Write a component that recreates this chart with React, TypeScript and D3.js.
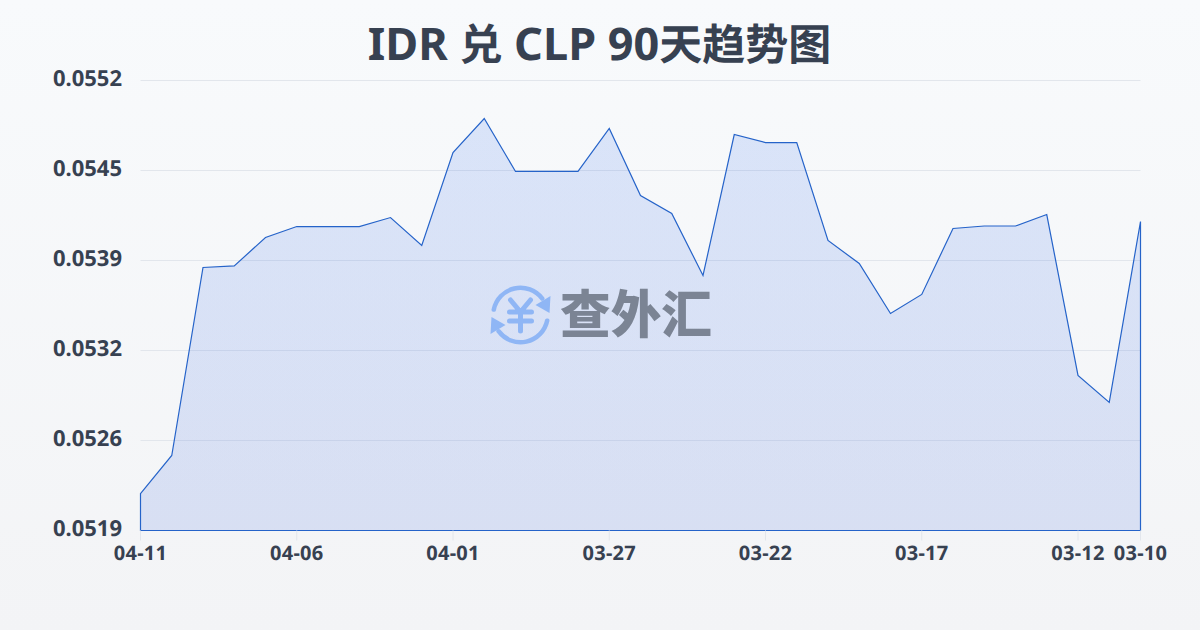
import React, { useEffect, useRef } from "react";
import * as d3 from "d3";

const dates = [
  "04-11", "04-10", "04-09", "04-08", "04-07", "04-06", "04-05", "04-04", "04-03", "04-02", "04-01",
  "03-31", "03-30", "03-29", "03-28", "03-27", "03-26", "03-25", "03-24", "03-23", "03-22",
  "03-21", "03-20", "03-19", "03-18", "03-17", "03-16", "03-15", "03-14", "03-13", "03-12", "03-11", "03-10",
];
const rates = [
  0.052171, 0.05245, 0.053829, 0.05384, 0.054049, 0.054129, 0.054129, 0.054129, 0.054195, 0.05399, 0.054672,
  0.054921, 0.054533, 0.054533, 0.054533, 0.054848, 0.054357, 0.054225, 0.05377, 0.054804, 0.054745,
  0.054745, 0.054027, 0.053858, 0.053491, 0.053631, 0.054115, 0.054133, 0.054133, 0.054217, 0.053037, 0.052839, 0.054166,
];
const xTickLabels = ["04-11", "04-06", "04-01", "03-27", "03-22", "03-17", "03-12", "03-10"];
const yTicks = [0.0519, 0.05256, 0.05322, 0.05388, 0.05454, 0.0552];
const titleParts = [
  { text: "IDR ", cjk: false },
  { text: "兑", cjk: true },
  { text: " CLP 90", cjk: false },
  { text: "天趋势图", cjk: true },
];

const W = 1200;
const H = 630;
const margin = { top: 80.5, right: 59.5, bottom: 99.5, left: 140.5 };
const textColor = "#374151";
const lineColor = "#2563c9";
const latinFont = "'Noto Sans', sans-serif";
const cjkFont = "'Noto Sans CJK SC', sans-serif";

const App: React.FC = () => {
  const chartRef = useRef<SVGSVGElement | null>(null);

  useEffect(() => {
    const svg = d3.select(chartRef.current);
    svg.selectAll("*").remove();

    const defs = svg.append("defs");
    const bg = defs.append("linearGradient").attr("id", "bg").attr("x1", 0).attr("y1", 0).attr("x2", 0).attr("y2", 1);
    bg.append("stop").attr("offset", "0%").attr("stop-color", "#f8fafc");
    bg.append("stop").attr("offset", "100%").attr("stop-color", "#f3f4f6");
    const fill = defs.append("linearGradient").attr("id", "areaFill").attr("x1", 0).attr("y1", 0).attr("x2", 0).attr("y2", 1);
    fill.append("stop").attr("offset", "0%").attr("stop-color", "#2563eb").attr("stop-opacity", 0.14);
    fill.append("stop").attr("offset", "100%").attr("stop-color", "#1d4ed8").attr("stop-opacity", 0.13);

    svg.append("rect").attr("width", W).attr("height", H).attr("fill", "url(#bg)");

    // Scales
    const x = d3
      .scalePoint<string>()
      .domain(dates)
      .range([margin.left, W - margin.right]);
    const y = d3
      .scaleLinear()
      .domain([yTicks[0], yTicks[yTicks.length - 1]])
      .range([H - margin.bottom, margin.top]);

    // Title
    svg
      .append("text")
      .attr("x", W / 2 - 0.5)
      .attr("y", 60)
      .attr("text-anchor", "middle")
      .attr("font-weight", 700)
      .attr("text-rendering", "geometricPrecision")
      .attr("fill", textColor)
      .selectAll("tspan")
      .data(titleParts)
      .enter()
      .append("tspan")
      .attr("font-family", (d) => (d.cjk ? cjkFont : latinFont))
      .attr("font-size", (d) => (d.cjk ? 43 : 45))
      .attr("xml:space", "preserve")
      .text((d) => d.text);

    // Grid and y labels
    svg
      .append("g")
      .selectAll("line")
      .data(yTicks)
      .enter()
      .append("line")
      .attr("x1", margin.left)
      .attr("x2", W - margin.right)
      .attr("y1", (d) => y(d))
      .attr("y2", (d) => y(d))
      .attr("stroke", "#e2e6ec")
      .attr("stroke-width", 1);

    svg
      .append("g")
      .selectAll("text")
      .data(yTicks)
      .enter()
      .append("text")
      .attr("x", 122)
      .attr("y", (d) => y(d) + 5.5)
      .attr("text-anchor", "end")
      .attr("font-family", latinFont)
      .attr("font-weight", 700)
      .attr("font-size", 22)
      .attr("text-rendering", "geometricPrecision")
      .attr("fill", textColor)
      .text((d) => d.toFixed(4));

    // Area and outline
    const area = d3
      .area<number>()
      .x((_, i) => x(dates[i]) as number)
      .y0(y(yTicks[0]))
      .y1((d) => y(d));
    svg
      .append("path")
      .attr("d", area(rates))
      .attr("fill", "url(#areaFill)")
      .attr("stroke", lineColor)
      .attr("stroke-width", 1.2);

    // X ticks and labels
    const xAxis = svg.append("g");
    xAxis
      .selectAll("line")
      .data(xTickLabels)
      .enter()
      .append("line")
      .attr("x1", (d) => x(d) as number)
      .attr("x2", (d) => x(d) as number)
      .attr("y1", H - margin.bottom)
      .attr("y2", H - margin.bottom + 10)
      .attr("stroke", "#e2e6ec");
    xAxis
      .selectAll("text")
      .data(xTickLabels)
      .enter()
      .append("text")
      .attr("x", (d) => x(d) as number)
      .attr("y", 560)
      .attr("text-anchor", "middle")
      .attr("font-family", latinFont)
      .attr("font-weight", 700)
      .attr("font-size", 20)
      .attr("letter-spacing", 0.3)
      .attr("text-rendering", "geometricPrecision")
      .attr("fill", textColor)
      .text((d) => d);

    // Watermark
    const mark = svg.append("g").attr("transform", "translate(520.5,315)");
    const ringColor = "#8fb6f5";
    const ring = d3.arc<{ s: number; e: number }>()
      .innerRadius(25)
      .outerRadius(29.5)
      .cornerRadius(2)
      .startAngle((d) => d.s)
      .endAngle((d) => d.e);
    mark
      .selectAll("path.ring")
      .data([
        { s: -1.45, e: 1.0 },
        { s: 1.7, e: 4.15 },
      ])
      .enter()
      .append("path")
      .attr("class", "ring")
      .attr("d", ring)
      .attr("fill", ringColor);
    mark.append("path").attr("d", "M29,-2 L30,-19 L15,-10 Z").attr("fill", ringColor);
    mark.append("path").attr("d", "M-29,2 L-30,19 L-15,10 Z").attr("fill", ringColor);
    mark
      .append("path")
      .attr("d", "M-10,-15 L0,-3 L10,-15 M-11,-3 H11 M-11,6 H11 M0,-3 V16")
      .attr("fill", "none")
      .attr("stroke", ringColor)
      .attr("stroke-width", 5)
      .attr("stroke-linecap", "round")
      .attr("stroke-linejoin", "round");
    svg
      .append("text")
      .attr("x", 560)
      .attr("y", 333)
      .attr("textLength", 152)
      .attr("lengthAdjust", "spacingAndGlyphs")
      .attr("font-family", cjkFont)
      .attr("font-weight", 900)
      .attr("font-size", 51)
      .attr("fill", "#7b8494")
      .text("查外汇");
  }, []);

  return <svg ref={chartRef} width={W} height={H} style={{ position: "fixed", left: 0, top: 0 }}></svg>;
};

export default App;
